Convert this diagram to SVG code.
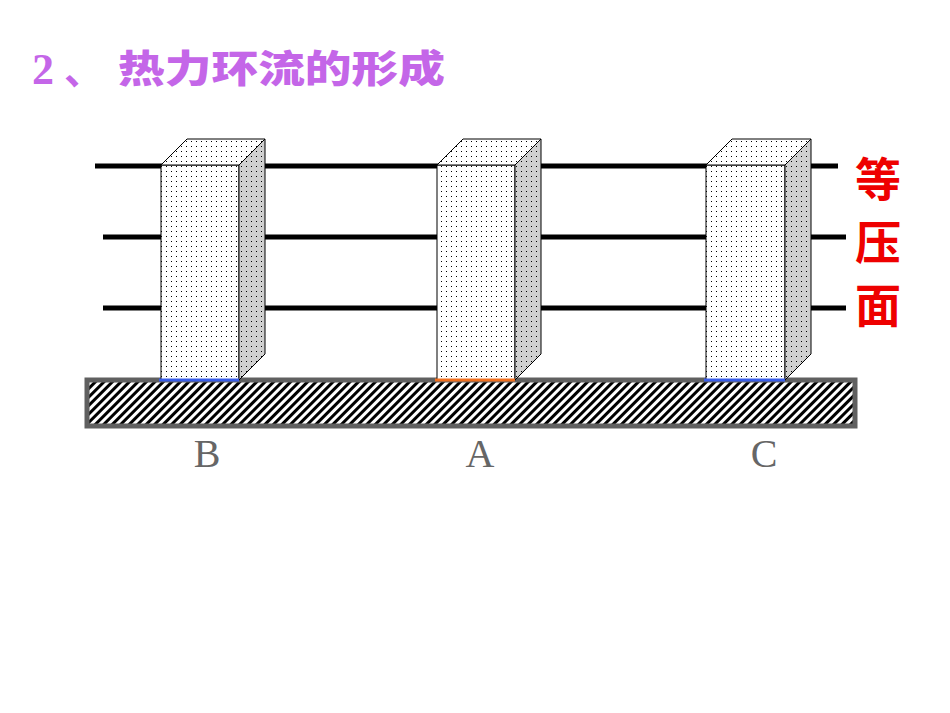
<svg xmlns="http://www.w3.org/2000/svg" width="950" height="713" viewBox="0 0 950 713">
<defs>
<pattern id="dots" width="5" height="5" patternUnits="userSpaceOnUse"><rect width="5" height="5" fill="#fff"/><rect x="1" y="1" width="1" height="1" fill="#000"/></pattern>
<pattern id="dots2" width="5" height="5" patternUnits="userSpaceOnUse"><rect width="5" height="5" fill="#d0d0d0"/><rect x="1" y="1" width="1" height="1" fill="#000"/></pattern>
<pattern id="hatch" width="6" height="6" patternUnits="userSpaceOnUse" patternTransform="rotate(45)"><rect width="6" height="6" fill="#fff"/><rect width="3" height="6" fill="#000"/></pattern>
<style>
.iso{stroke:#000;stroke-width:5}
.col{stroke:#000;stroke-width:1}
.lbl{font-family:"Liberation Serif",serif;font-size:40px;fill:#666;text-anchor:middle}
.red{font-family:"Noto Sans CJK SC",sans-serif;font-size:46px;fill:#e00;font-weight:bold;text-anchor:middle}
</style>
</defs>
<text x="32" y="84" font-family="Liberation Serif,serif" font-size="44" font-weight="bold" fill="#c466e8">2</text>
<text x="64" y="84" font-family="Noto Sans CJK SC,sans-serif" font-size="40" font-weight="bold" fill="#c466e8">、</text>
<text x="118" y="82" font-family="Noto Sans CJK SC,sans-serif" font-size="38" font-weight="900" fill="#c466e8" textLength="327" lengthAdjust="spacingAndGlyphs">热力环流的形成</text>
<g id="isobars">
<line class="iso" x1="95" y1="166" x2="838" y2="166"/>
<line class="iso" x1="103" y1="237" x2="846" y2="237"/>
<line class="iso" x1="103" y1="308" x2="846" y2="308"/>
</g>
<g id="ground"><rect x="87" y="380" width="768" height="46" fill="url(#hatch)" stroke="#606060" stroke-width="5"/></g>
<g id="colB">
<rect class="col" x="161" y="165" width="78" height="215" fill="url(#dots)"/>
<polygon class="col" points="161,165 187,139 265,139 239,165" fill="url(#dots)"/>
<polygon class="col" points="239,165 265,139 265,354 239,380" fill="url(#dots2)"/>
<line x1="159" y1="380" x2="239" y2="380" stroke="#3a5ee8" stroke-width="3"/>
</g>
<g id="colA">
<rect class="col" x="437" y="165" width="78" height="215" fill="url(#dots)"/>
<polygon class="col" points="437,165 463,139 541,139 515,165" fill="url(#dots)"/>
<polygon class="col" points="515,165 541,139 541,354 515,380" fill="url(#dots2)"/>
<line x1="435" y1="380" x2="515" y2="380" stroke="#f07020" stroke-width="3"/>
</g>
<g id="colC">
<rect class="col" x="706" y="165" width="79" height="215" fill="url(#dots)"/>
<polygon class="col" points="706,165 732,139 811,139 785,165" fill="url(#dots)"/>
<polygon class="col" points="785,165 811,139 811,354 785,380" fill="url(#dots2)"/>
<line x1="704" y1="380" x2="785" y2="380" stroke="#3a5ee8" stroke-width="3"/>
</g>
<text class="lbl" x="207" y="467">B</text>
<text class="lbl" x="480" y="467">A</text>
<text class="lbl" x="764" y="467">C</text>
<text class="red" x="878" y="196">等</text>
<text class="red" x="878" y="259">压</text>
<text class="red" x="878" y="322">面</text>
</svg>
